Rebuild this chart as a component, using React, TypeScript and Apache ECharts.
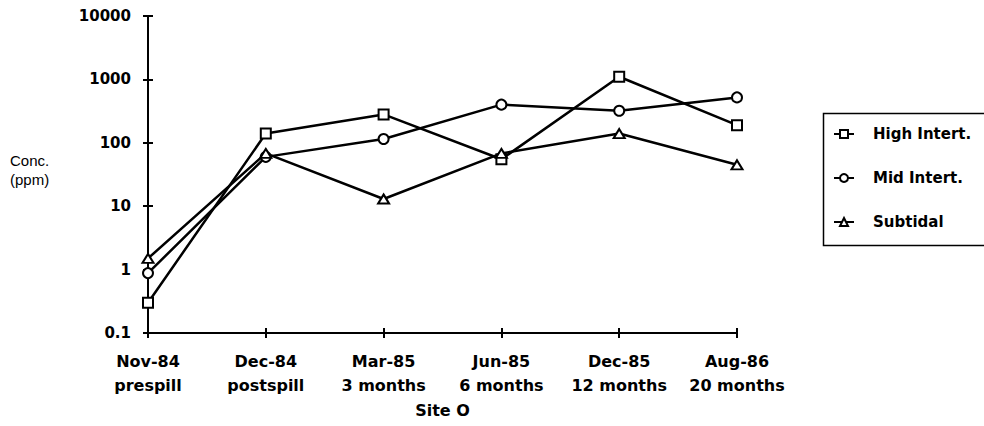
import React, { useEffect, useRef } from "react";
import * as echarts from "echarts";

// Sampling dates and the time since the spill
const sampleDates = ["Nov-84", "Dec-84", "Mar-85", "Jun-85", "Dec-85", "Aug-86"];
const sampleStages = ["prespill", "postspill", "3 months", "6 months", "12 months", "20 months"];

// Concentrations (ppm) by zone
const highIntertidal = [0.3, 140, 280, 55, 1100, 190];
const midIntertidal = [0.88, 60, 115, 400, 320, 520];
const subtidal = [1.5, 68, 13, 68, 140, 45];

const seriesNames = ["High Intert.", "Mid Intert.", "Subtidal"];

const FONT = "'DejaVu Sans', sans-serif";

export default function App() {
  const ref = useRef<HTMLDivElement>(null);

  useEffect(() => {
    document.body.style.margin = "0";
    if (!ref.current) return;
    const chart = echarts.init(ref.current, undefined, { renderer: "svg" });

    const categories = sampleDates.map((d, i) => `${d}\n${sampleStages[i]}`);

    const mkSeries = (name: string, data: number[], symbol: string, size: number | number[]) => ({
      name,
      type: "line",
      data,
      symbol,
      symbolSize: size,
      showAllSymbol: true,
      lineStyle: { color: "#000", width: 2.5 },
      itemStyle: { color: "#fff", borderColor: "#000", borderWidth: 2 },
      emphasis: { disabled: true },
      z: 3,
    });

    const labelFmt = (v: number) => String(+Number(v).toPrecision(6));

    chart.setOption({
      animation: false,
      backgroundColor: "#fff",
      title: {
        text: "Conc.\n(ppm)",
        left: 10,
        top: 151,
        padding: 0,
        textStyle: {
          fontFamily: "'Liberation Sans', Arial, sans-serif",
          fontWeight: "normal",
          fontSize: 15,
          lineHeight: 19,
          color: "#000",
        },
      },
      grid: { left: 148, right: 247, top: 16, bottom: 93, containLabel: false },
      legend: {
        orient: "vertical",
        left: 833,
        top: 125,
        padding: 0,
        itemWidth: 20,
        itemHeight: 10,
        itemGap: 26,
        selectedMode: false,
        data: seriesNames,
        textStyle: {
          fontFamily: FONT,
          fontWeight: "bold",
          fontSize: 15,
          lineHeight: 18,
          color: "#000",
          padding: [0, 0, 0, 14],
        },
      },
      xAxis: [
        {
          type: "category",
          data: categories,
          boundaryGap: false,
          axisLine: { lineStyle: { color: "#000", width: 2 } },
          axisTick: { show: true, length: 5, lineStyle: { color: "#000", width: 2 } },
          axisLabel: {
            fontFamily: FONT,
            fontWeight: "bold",
            fontSize: 16,
            lineHeight: 24,
            color: "#000",
            margin: 16,
            interval: 0,
          },
          name: "Site O",
          nameLocation: "middle",
          nameGap: 69,
          nameTextStyle: { fontFamily: FONT, fontWeight: "bold", fontSize: 16, color: "#000" },
        },
        {
          type: "category",
          data: categories,
          boundaryGap: false,
          position: "bottom",
          offset: 0,
          axisLine: { show: true, lineStyle: { color: "#000", width: 2 } },
          axisTick: { show: true, inside: true, length: 5, lineStyle: { color: "#000", width: 2 } },
          axisLabel: { show: false },
        },
      ],
      yAxis: [
        {
          type: "log",
          logBase: 10,
          min: 0.1,
          max: 10000,
          axisLine: { show: true, lineStyle: { color: "#000", width: 2 } },
          axisTick: { show: true, length: 5, lineStyle: { color: "#000", width: 2 } },
          splitLine: { show: false },
          minorTick: { show: false },
          axisLabel: {
            fontFamily: FONT,
            fontWeight: "bold",
            fontSize: 15,
            color: "#000",
            margin: 17,
            formatter: labelFmt,
          },
        },
        {
          type: "log",
          logBase: 10,
          min: 0.1,
          max: 10000,
          position: "left",
          offset: 0,
          axisLine: { show: true, lineStyle: { color: "#000", width: 2 } },
          axisTick: { show: true, inside: true, length: 5, lineStyle: { color: "#000", width: 2 } },
          splitLine: { show: false },
          axisLabel: { show: false },
        },
      ],
      graphic: [
        {
          type: "rect",
          left: 821,
          top: 111,
          shape: { width: 220, height: 132 },
          style: { fill: "none", stroke: "#000", lineWidth: 1.5 },
          silent: true,
        },
      ],
      series: [
        mkSeries(seriesNames[0], highIntertidal, "rect", 10),
        mkSeries(seriesNames[1], midIntertidal, "circle", 10),
        mkSeries(seriesNames[2], subtidal, "triangle", [11, 9]),
      ],
    });

    return () => chart.dispose();
  }, []);

  return (
    <div
      ref={ref}
      style={{ position: "fixed", left: 0, top: 0, width: 984, height: 426, background: "#fff" }}
    />
  );
}
